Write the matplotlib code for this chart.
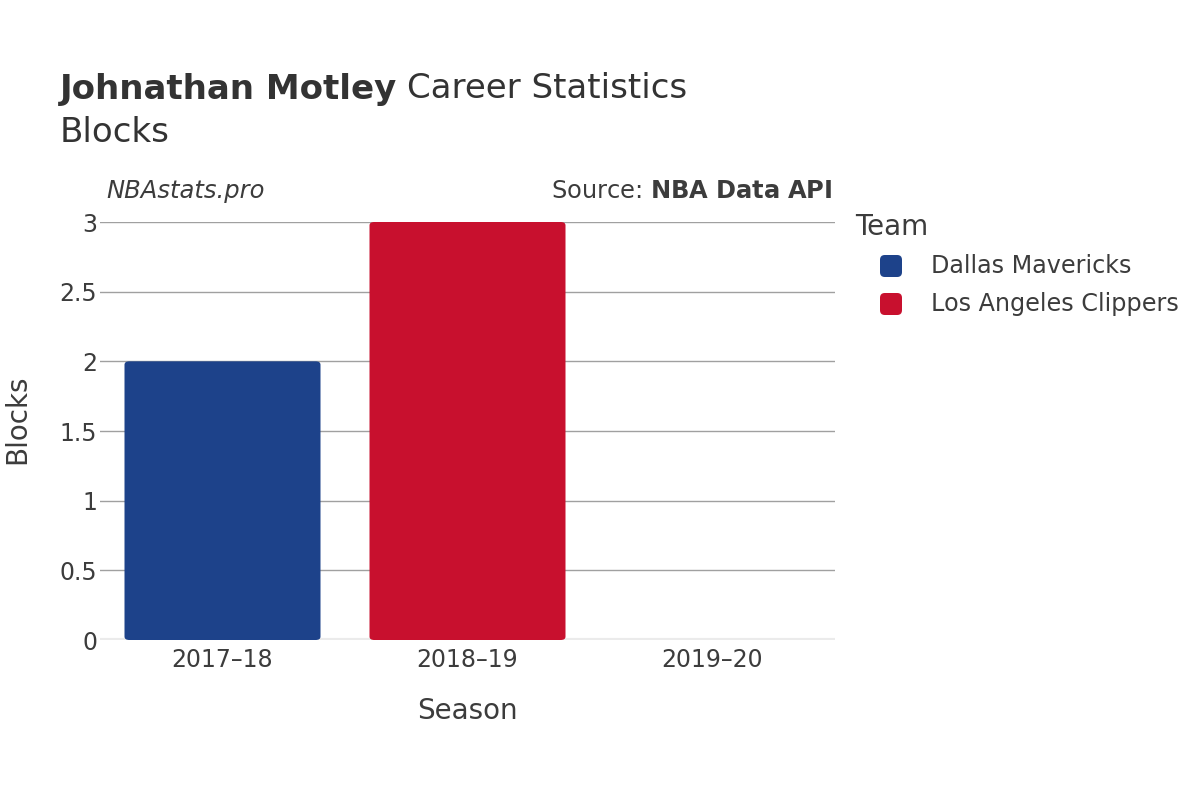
import matplotlib
matplotlib.use("Agg")
import matplotlib.pyplot as plt
from matplotlib.patches import FancyBboxPatch

seasons = ["2017–18", "2018–19", "2019–20"]
teams = ["Dallas Mavericks", "Los Angeles Clippers"]
team_colors = ["#1d428a", "#c8102e"]
bar_team = [0, 1, None]
blocks = [2, 3, 0]
y_ticks = [0, 0.5, 1, 1.5, 2, 2.5, 3]
y_tick_labels = ["0", "0.5", "1", "1.5", "2", "2.5", "3"]

plt.rcParams['font.family'] = ['DejaVu Sans']
text_color = "#3c3c3c"

fig = plt.figure(figsize=(12, 8), dpi=100)
ax = fig.add_axes([100/1200, 1-640/800, 735/1200, (640-222)/800])

ax.set_xlim(-0.5, len(seasons) - 0.5)
ax.set_ylim(0, 3)

width = 0.8
for i, (t, v) in enumerate(zip(bar_team, blocks)):
    if t is None or v == 0:
        continue
    p = FancyBboxPatch((i - width/2, 0), width, v,
                       boxstyle="round,pad=0,rounding_size=0.02",
                       mutation_aspect=1.2,
                       facecolor=team_colors[t], edgecolor="none", zorder=3)
    ax.add_patch(p)

for y in y_ticks[1:]:
    ax.axhline(y, color="#a0a0a0", lw=1, zorder=1)
ax.axhline(0, color="#ebebeb", lw=3, zorder=2)

ax.set_xticks(range(len(seasons)))
ax.set_xticklabels(seasons)
ax.set_yticks(y_ticks)
ax.set_yticklabels(y_tick_labels)
ax.tick_params(axis="both", length=0, labelsize=17, colors=text_color)
ax.tick_params(axis="y", pad=2)
ax.tick_params(axis="x", pad=6)
for s in ax.spines.values():
    s.set_visible(False)

ax.set_xlabel("Season", fontsize=20, color=text_color, labelpad=18)
fig.text(17/1200, 1-419/800, "Blocks", fontsize=20, color=text_color,
         rotation=90, ha="center", va="center")

t1 = fig.text(60/1200, 1-89/800, "Johnathan Motley", fontsize=24.5, fontweight="bold",
              color="#333333", va="center", ha="left")
fig.canvas.draw()
bb = t1.get_window_extent(fig.canvas.get_renderer())
fig.text(bb.x1/1200 + 10/1200, 1-89/800, "Career Statistics", fontsize=24.5,
         color="#333333", va="center", ha="left")
fig.text(60/1200, 1-132/800, "Blocks", fontsize=24.5, color="#333333",
         va="center", ha="left")

fig.text(106/1200, 1-191/800, "NBAstats.pro", fontsize=17.5, style="italic",
         color=text_color, va="center", ha="left")
fig.text(832/1200, 1-191/800, r"Source: $\bf{NBA\ Data\ API}$", fontsize=17.4,
         color=text_color, va="center", ha="right")

fig.text(855/1200, 1-227/800, "Team", fontsize=20, color=text_color,
         va="center", ha="left")
for k, (name, c) in enumerate(zip(teams, team_colors)):
    yy = 1 - (266 + 38*k)/800
    fig.add_artist(FancyBboxPatch((880/1200, yy - 11/800), 22/1200, 22/800,
                                  boxstyle="round,pad=0,rounding_size=0.004",
                                  mutation_aspect=1.5,
                                  transform=fig.transFigure, facecolor=c,
                                  edgecolor="none"))
    fig.text(931/1200, yy, name, fontsize=17.2, color=text_color,
             va="center", ha="left")

fig.savefig("out.png", dpi=100)
